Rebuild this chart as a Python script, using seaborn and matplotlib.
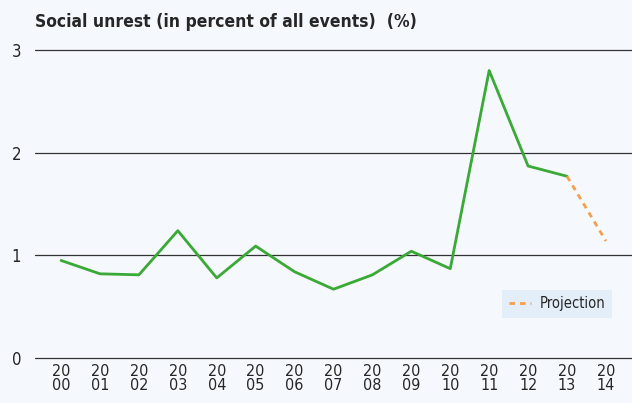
import pandas as pd
import matplotlib.pyplot as plt
import seaborn as sns

# Data
years = list(range(2000, 2015))
unrest = [0.95, 0.82, 0.81, 1.24, 0.78, 1.09, 0.84, 0.67, 0.81, 1.04, 0.87, 2.80, 1.87, 1.77, None]
proj_years = [2013, 2014]
proj_values = [1.77, 1.14]
year_labels = [f"{str(y)[:2]}\n{str(y)[2:]}" for y in years]

df = pd.DataFrame({'Year': years, 'Value': unrest}).dropna()
df_proj = pd.DataFrame({'Year': proj_years, 'Value': proj_values})

sns.set_theme(style="white")
plt.rcParams['font.family'] = ['DejaVu Sans']
plt.rcParams['font.stretch'] = 'condensed'

bg = '#f5f8fd'
fig = plt.figure(figsize=(6.32, 4.03), dpi=100, facecolor=bg)
ax = fig.add_axes([35 / 632, 45 / 403, 597 / 632, 308 / 403])
ax.set_facecolor(bg)

# horizontal reference lines
for v in [0, 1, 2, 3]:
    ax.axhline(v, color='#333333', linewidth=0.9, zorder=1, clip_on=False)

sns.lineplot(data=df, x='Year', y='Value', color='#3aa935', linewidth=2.0, ax=ax, zorder=3)
sns.lineplot(data=df_proj, x='Year', y='Value', color='#f4a04a', linewidth=2.0,
             linestyle=(0, (2, 1.8)), ax=ax, zorder=4, label='Projection')

ax.set_xlim(1999.33, 2014.67)
ax.set_ylim(0, 3)
ax.set_xticks(years)
ax.set_xticklabels(year_labels, fontsize=11.5, linespacing=0.95)
ax.set_yticks([0, 1, 2, 3])
ax.set_yticklabels(['0', '1', '2', '3'], fontsize=12)
ax.tick_params(axis='both', length=0, pad=4)
ax.tick_params(axis='y', pad=10)
ax.set_xlabel('')
ax.set_ylabel('')
for s in ax.spines.values():
    s.set_visible(False)

leg = ax.legend(loc='lower right', bbox_to_anchor=(0.966, 0.13), borderaxespad=0, frameon=True,
                fontsize=10.5, handlelength=1.5, handletextpad=0.6, borderpad=0.45, fancybox=False)
leg.get_frame().set_facecolor('#e3eef9')
leg.get_frame().set_edgecolor('none')
leg.get_frame().set_alpha(1)

fig.text(35 / 632, 1 - 22 / 403, 'Social unrest (in percent of all events)  (%)',
         fontsize=12.5, fontweight='bold', va='center', ha='left')

fig.savefig('out.png', dpi=100, facecolor=bg)
